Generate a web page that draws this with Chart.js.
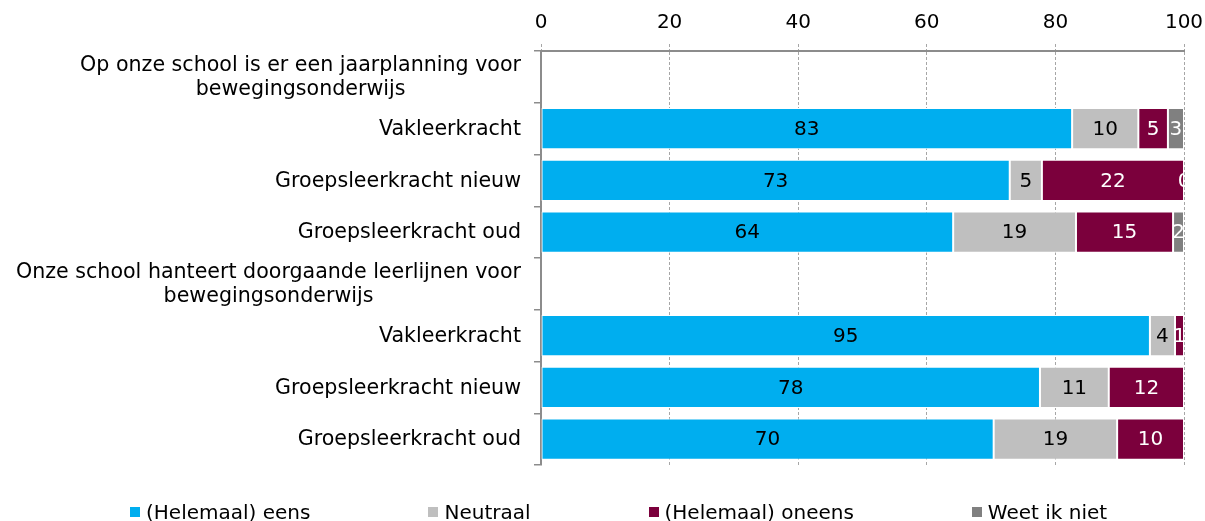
<!DOCTYPE html>
<html>
<head>
<meta charset="utf-8">
<script src="https://cdn.jsdelivr.net/npm/chart.js@4.4.1/dist/chart.umd.min.js"></script>
<style>
  body { margin: 0; background: #fff; font-family: 'DejaVu Sans', sans-serif; }
  #wrap { position: relative; width: 1205px; height: 521px; overflow: hidden; }
  #legend { position: absolute; left: 130px; top: 500px; display: flex; gap: 118px; font-size: 20px; line-height: 24px; color: #000; white-space: nowrap; }
  .item { display: flex; align-items: center; }
  .swatch { width: 10px; height: 10px; margin-right: 6px; }
</style>
</head>
<body>
<div id="wrap">
  <canvas id="chart"></canvas>
  <div id="legend"></div>
</div>
<script>
// ── Data ─────────────────────────────────────────────────────────────────────
const categories = [
  ['Op onze school is er een jaarplanning voor', 'bewegingsonderwijs'],
  'Vakleerkracht', 'Groepsleerkracht nieuw', 'Groepsleerkracht oud',
  ['Onze school hanteert doorgaande leerlijnen voor', 'bewegingsonderwijs'],
  'Vakleerkracht', 'Groepsleerkracht nieuw', 'Groepsleerkracht oud'
];
const seriesNames = ['(Helemaal) eens', 'Neutraal', '(Helemaal) oneens', 'Weet ik niet'];
const eens     = [null, 82.6, 72.9, 64.1, null, 94.7, 77.6, 70.4];
const neutraal = [null, 10.3,  5.0, 19.1, null,  3.9, 10.7, 19.2];
const oneens   = [null,  4.6, 22.1, 15.1, null,  1.4, 11.7, 10.4];
const weetNiet = [null,  2.5,  0.0,  1.7, null, null, null, null];
const xTicks = [0, 20, 40, 60, 80, 100];

const COLORS = ['#00aeef', '#bfbfbf', '#7b003c', '#808080'];
const LABEL_COLORS = ['#000', '#000', '#fff', '#fff'];
const FONT = "'DejaVu Sans', sans-serif";

// ── Plugins ──────────────────────────────────────────────────────────────────
// value labels in the middle of each segment, clipped to the plot area
const valueLabels = {
  id: 'valueLabels',
  afterDatasetsDraw(chart) {
    const { ctx, chartArea } = chart;
    ctx.save();
    ctx.beginPath();
    ctx.rect(chartArea.left, chartArea.top, chartArea.right - chartArea.left, chartArea.bottom - chartArea.top);
    ctx.clip();
    ctx.font = `20px ${FONT}`;
    ctx.textAlign = 'center';
    ctx.textBaseline = 'middle';
    chart.data.datasets.forEach((ds, di) => {
      const meta = chart.getDatasetMeta(di);
      meta.data.forEach((bar, i) => {
        const v = ds.data[i];
        if (v === null || v === undefined) return;
        ctx.fillStyle = LABEL_COLORS[di];
        ctx.fillText(String(Math.round(v)), (bar.x + bar.base) / 2, bar.y + 1);
      });
    });
    ctx.restore();
  }
};

// category labels: block right-aligned to the axis, lines centred in the block
const categoryLabels = {
  id: 'categoryLabels',
  afterDraw(chart) {
    const { ctx, chartArea } = chart;
    const yScale = chart.scales.y;
    const right = chartArea.left - 20;
    const lineH = 24;
    ctx.save();
    ctx.font = `20.6px ${FONT}`;
    ctx.fillStyle = '#000';
    ctx.textAlign = 'center';
    ctx.textBaseline = 'middle';
    categories.forEach((label, i) => {
      const lines = Array.isArray(label) ? label : [label];
      const w = Math.max(...lines.map(l => ctx.measureText(l).width));
      const cx = right - w / 2;
      const cy = yScale.getPixelForValue(i) + 1;
      lines.forEach((l, k) => {
        ctx.fillText(l, cx, cy + (k - (lines.length - 1) / 2) * lineH);
      });
    });
    ctx.restore();
  }
};

// ── Chart ────────────────────────────────────────────────────────────────────
const datasets = [eens, neutraal, oneens, weetNiet].map((data, i) => ({
  label: seriesNames[i],
  data,
  backgroundColor: COLORS[i],
  borderColor: '#ffffff',
  borderWidth: 1,
  borderSkipped: false,
  barPercentage: 0.8,
  categoryPercentage: 1,
}));

new Chart(document.getElementById('chart'), {
  type: 'bar',
  data: { labels: categories.map((c, i) => i), datasets },
  options: {
    indexAxis: 'y',
    responsive: true,
    maintainAspectRatio: false,
    animation: false,
    layout: { padding: { left: 0, right: 21, top: 0, bottom: 56 } },
    plugins: {
      legend: { display: false },
      tooltip: { enabled: false },
    },
    scales: {
      x: {
        position: 'top',
        stacked: true,
        min: 0,
        max: 100,
        afterBuildTicks: s => { s.ticks = xTicks.map(v => ({ value: v })); },
        afterFit: s => { s.height = 51; s.paddingLeft = 0; s.paddingRight = 0; },
        ticks: { font: { family: FONT, size: 20 }, color: '#000', padding: 9 },
        grid: {
          color: '#a6a6a6',
          lineWidth: 1,
          tickLength: 7,
          tickColor: '#a6a6a6',
          tickBorderDash: [3, 2],
        },
        border: { color: '#8c8c8c', width: 2, dash: [3, 2] },
      },
      y: {
        stacked: true,
        afterFit: s => { s.width = 541; },
        ticks: { display: false },
        grid: {
          drawOnChartArea: false,
          tickLength: 7,
          tickColor: '#8c8c8c',
          lineWidth: 1.5,
        },
        border: { color: '#8c8c8c', width: 2 },
      },
    },
  },
  plugins: [valueLabels, categoryLabels],
});

// ── Legend ───────────────────────────────────────────────────────────────────
const legendEl = document.getElementById('legend');
seriesNames.forEach((name, i) => {
  const item = document.createElement('span');
  item.className = 'item';
  const sw = document.createElement('span');
  sw.className = 'swatch';
  sw.style.background = COLORS[i];
  const txt = document.createElement('span');
  txt.textContent = name;
  item.appendChild(sw);
  item.appendChild(txt);
  legendEl.appendChild(item);
});
</script>
</body>
</html>
